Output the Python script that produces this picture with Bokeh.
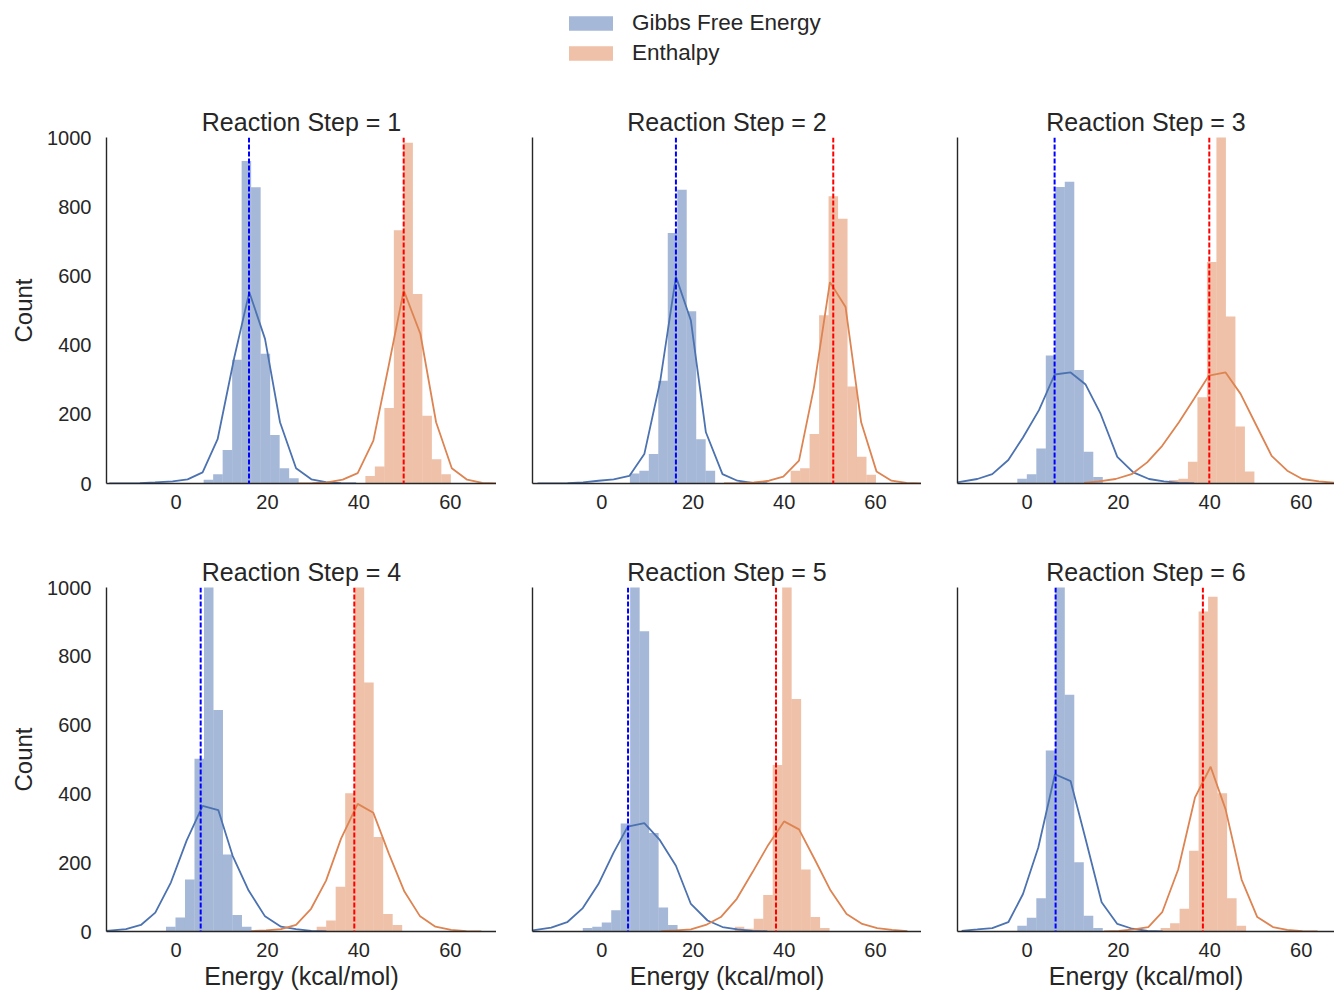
from bokeh.plotting import figure
from bokeh.models import Span, FixedTicker, Legend, LegendItem, Range1d
from bokeh.layouts import column, row
from bokeh.embed import file_html
from bokeh.resources import INLINE

# ---------------- data ----------------
steps = [1, 2, 3, 4, 5, 6]
bin_width = 2.078

gibbs_first_edge = [6.05, 6.15, -2.11, -2.19, -4.17, -2.11]
gibbs_counts = [
    [11, 27, 97, 358, 932, 856, 375, 140, 44, 15],
    [29, 37, 85, 297, 724, 849, 498, 128, 37],
    [14, 27, 101, 370, 857, 872, 328, 92, 19],
    [14, 41, 151, 502, 1040, 644, 224, 48, 14],
    [10, 14, 26, 62, 314, 1120, 873, 286, 70, 19],
    [17, 40, 97, 526, 1030, 688, 201, 46, 10],
]
enthalpy_first_edge = [41.42, 41.41, 31.07, 30.77, 29.16, 29.25]
enthalpy_counts = [
    [22, 49, 218, 732, 985, 548, 196, 70, 27],
    [37, 44, 143, 486, 830, 765, 280, 77, 25],
    [10, 14, 63, 249, 640, 1060, 483, 165, 35],
    [14, 32, 130, 402, 1080, 724, 275, 51, 19],
    [14, 8, 37, 106, 484, 1100, 676, 180, 42, 10],
    [10, 24, 66, 235, 930, 973, 402, 97, 17],
]

gibbs_mean = [15.97, 16.25, 6.05, 5.4, 5.75, 6.27]
enthalpy_mean = [49.8, 50.75, 39.9, 39.0, 38.2, 38.5]

gibbs_kde_x = [
    [-14.6, -11.3, -7.9, -4.6, -0.74, 2.54, 5.82, 9.1, 12.76, 16.04, 19.47, 22.75, 26.26, 29.6, 32.8, 36.1, 39.4],
    [-14.1, -10.8, -7.5, -4.1, -0.74, 2.6, 6.04, 9.32, 12.82, 16.25, 19.53, 22.82, 26.46, 29.74, 33.0, 36.3],
    [-15.25, -10.87, -7.59, -4.08, -0.87, 2.63, 6.06, 9.56, 12.84, 16.13, 19.77, 23.27, 26.7, 29.98, 33.3, 36.6],
    [-15.2, -10.95, -7.67, -4.53, -1.1, 2.32, 5.82, 9.25, 12.39, 15.89, 19.47, 22.97, 26.26, 29.6, 32.9],
    [-15.2, -11.1, -7.6, -4.17, -0.74, 2.61, 5.68, 9.32, 12.6, 16.25, 19.53, 23.18, 26.46, 29.74, 33.0, 36.3],
    [-14.3, -10.87, -7.59, -4.08, -0.87, 2.48, 6.13, 9.56, 12.84, 16.34, 19.77, 23.05, 26.4, 29.7],
]
gibbs_kde_y = [
    [0, 0, 1, 3, 6, 12, 32, 128, 365, 553, 418, 177, 44, 12, 4, 1, 0],
    [0, 0, 1, 3, 8, 12, 22, 85, 297, 598, 471, 148, 27, 8, 2, 0],
    [3, 13, 27, 68, 133, 212, 315, 321, 286, 201, 77, 32, 13, 6, 2, 0],
    [2, 7, 19, 55, 143, 264, 365, 353, 220, 119, 44, 14, 7, 2, 0],
    [3, 11, 27, 68, 138, 230, 305, 315, 268, 191, 80, 32, 13, 6, 2, 0],
    [2, 6, 10, 27, 109, 244, 457, 437, 268, 85, 22, 8, 2, 0],
]
enthalpy_kde_x = [
    [26.5, 29.8, 33.1, 36.46, 39.74, 43.17, 46.53, 49.81, 53.46, 56.89, 60.32, 63.68, 67.0, 70.3],
    [26.8, 30.1, 33.4, 36.67, 39.8, 43.24, 46.52, 50.02, 53.45, 56.87, 60.23, 63.52, 66.8, 70.1],
    [12.5, 15.75, 19.4, 22.9, 26.3, 29.6, 33.26, 36.54, 39.82, 43.47, 46.75, 50.04, 53.54, 56.96, 60.24, 63.9, 67.3],
    [16.4, 19.7, 22.97, 26.26, 29.54, 32.82, 36.1, 39.74, 43.17, 46.53, 49.96, 53.39, 56.74, 60.17, 63.5, 66.8],
    [13.0, 16.25, 19.53, 22.82, 26.1, 29.6, 33.03, 36.46, 39.96, 43.24, 46.67, 50.17, 53.67, 57.1, 60.38, 63.66, 67.0],
    [16.8, 20.1, 23.41, 26.55, 29.6, 33.11, 36.76, 40.19, 43.47, 46.97, 50.4, 53.83, 56.96, 60.3, 63.6],
]
enthalpy_kde_y = [
    [0, 1, 3, 11, 30, 124, 341, 558, 432, 177, 44, 11, 2, 0],
    [0, 1, 3, 8, 20, 66, 278, 582, 510, 177, 35, 8, 2, 0],
    [2, 6, 13, 27, 61, 109, 177, 244, 312, 321, 259, 172, 80, 37, 13, 6, 2],
    [1, 3, 7, 19, 66, 148, 270, 371, 345, 227, 116, 44, 14, 5, 1, 0],
    [1, 3, 6, 19, 42, 95, 172, 251, 320, 297, 210, 119, 51, 22, 10, 5, 1],
    [0, 2, 6, 13, 56, 181, 389, 479, 355, 151, 42, 13, 5, 1, 0],
]

series_names = ["Gibbs Free Energy", "Enthalpy"]
x_ticks = [0, 20, 40, 60]
y_ticks = [0, 200, 400, 600, 800, 1000]

# ---------------- styling ----------------
FONT = "Liberation Sans"
TEXT = "#262626"
BLUE = "#4C72B0"
ORANGE = "#DD8452"

frame_widths = [390, 389, 377]
x_ends = [70.1, 70.1, 67.3]
left_borders = [106, 36, 36]
frame_heights = [346, 344]
bottom_borders = [70, 66]


def bars(p, first_edge, counts, color):
    lefts = [first_edge + k * bin_width for k in range(len(counts))]
    rights = [l + bin_width for l in lefts]
    p.quad(left=lefts, right=rights, top=counts, bottom=0,
           fill_color=color, fill_alpha=0.5, line_color=None)


def make_panel(i):
    c = i % 3
    r = i // 3
    p = figure(frame_width=frame_widths[c], frame_height=frame_heights[r],
               x_range=Range1d(-15.2, x_ends[c]), y_range=Range1d(0, 1000),
               output_backend="svg", toolbar_location=None,
               min_border_left=left_borders[c], min_border_right=0,
               min_border_top=34, min_border_bottom=bottom_borders[r],
               title=f"Reaction Step = {steps[i]}")
    p.title.text_font = FONT
    p.title.text_font_size = "25px"
    p.title.text_font_style = "normal"
    p.title.text_color = TEXT
    p.title.align = "center"
    p.title.standoff = 4
    p.outline_line_color = None
    p.grid.visible = False
    p.background_fill_color = "white"
    p.border_fill_color = "white"

    for ax in (p.xaxis[0], p.yaxis[0]):
        ax.major_tick_out = 0
        ax.major_tick_in = 0
        ax.minor_tick_out = 0
        ax.minor_tick_in = 0
        ax.axis_line_color = TEXT
        ax.axis_line_width = 1.4
        ax.major_label_text_font = FONT
        ax.major_label_text_font_size = "20px"
        ax.major_label_text_color = TEXT
        ax.axis_label_text_font = FONT
        ax.axis_label_text_font_size = "25px"
        ax.axis_label_text_font_style = "normal"
        ax.axis_label_text_color = TEXT

    p.xaxis.ticker = FixedTicker(ticks=x_ticks)
    p.xaxis.major_label_standoff = 11
    if c == 0:
        p.yaxis.ticker = FixedTicker(ticks=y_ticks)
        p.yaxis.axis_label = "Count"
        p.yaxis.axis_label_text_font_size = "24px"
        p.yaxis.major_label_standoff = 15
        p.yaxis.axis_label_standoff = 7
    else:
        # shared y axis: spine only, no labels
        p.yaxis.ticker = FixedTicker(ticks=[])
    if r == 1:
        p.xaxis.axis_label = "Energy (kcal/mol)"
        p.xaxis.axis_label_standoff = 2

    bars(p, gibbs_first_edge[i], gibbs_counts[i], BLUE)
    bars(p, enthalpy_first_edge[i], enthalpy_counts[i], ORANGE)
    p.line(gibbs_kde_x[i], gibbs_kde_y[i], line_color=BLUE, line_width=1.8)
    p.line(enthalpy_kde_x[i], enthalpy_kde_y[i], line_color=ORANGE, line_width=1.8)
    p.add_layout(Span(location=gibbs_mean[i], dimension="height",
                      line_color="blue", line_dash="5 2", line_width=2))
    p.add_layout(Span(location=enthalpy_mean[i], dimension="height",
                      line_color="red", line_dash="5 2", line_width=2))
    return p


panels = [make_panel(i) for i in range(6)]

# legend strip on top (proxy renderers sit outside the visible range)
lg = figure(width=1334, height=103, output_backend="svg", toolbar_location=None,
            x_range=Range1d(0, 1), y_range=Range1d(0, 1), min_border=0,
            x_axis_type=None, y_axis_type=None)
lg.outline_line_color = None
lg.grid.visible = False
r_g = lg.quad(left=[5], right=[6], top=[6], bottom=[5], fill_color=BLUE, fill_alpha=0.5, line_color=None)
r_h = lg.quad(left=[5], right=[6], top=[6], bottom=[5], fill_color=ORANGE, fill_alpha=0.5, line_color=None)
legend = Legend(items=[LegendItem(label=series_names[0], renderers=[r_g]),
                       LegendItem(label=series_names[1], renderers=[r_h])],
                location=(563, 37), orientation="vertical",
                glyph_width=55, glyph_height=18, label_standoff=14,
                label_height=25, spacing=4, padding=0, margin=0,
                label_text_font=FONT, label_text_font_size="22.5px",
                label_text_color=TEXT, border_line_color=None,
                background_fill_alpha=0)
lg.add_layout(legend)

layout = column(lg, row(*panels[:3]), row(*panels[3:]))

with open("out.html", "w") as f:
    f.write(file_html(layout, INLINE))
